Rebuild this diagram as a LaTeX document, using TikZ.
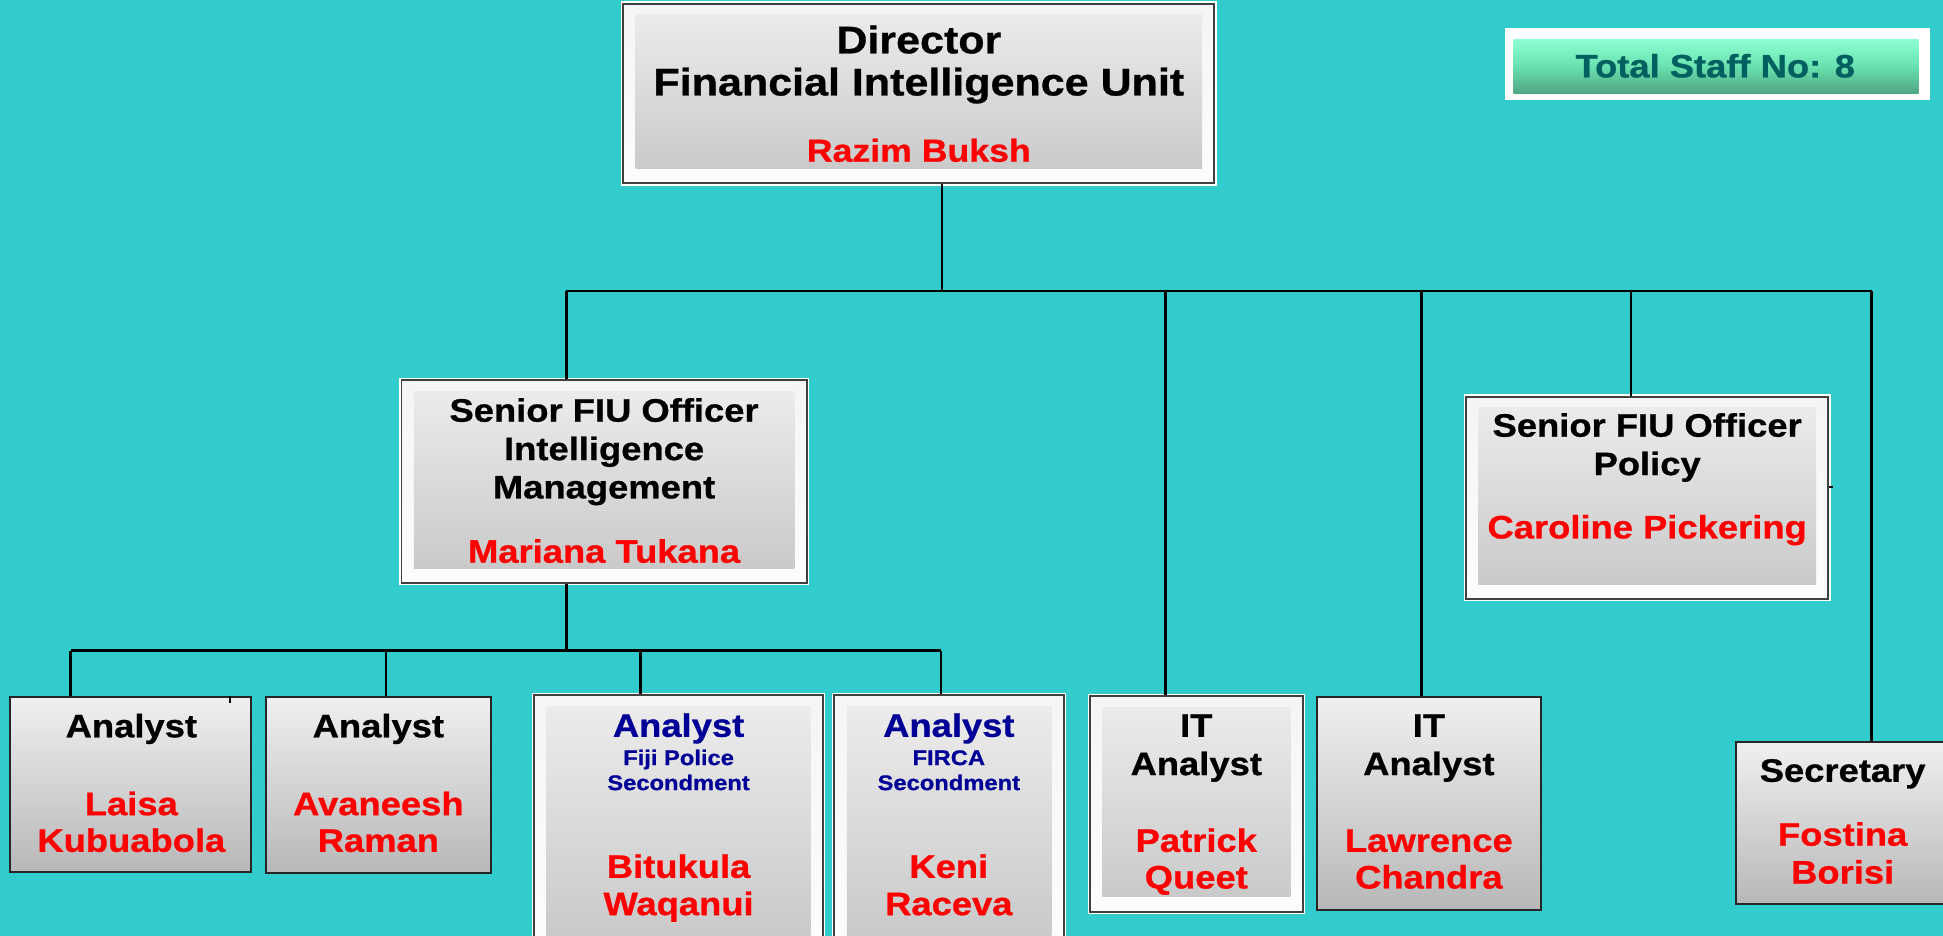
\documentclass[tikz,border=0pt]{standalone}
\usepackage{fontspec}
\setmainfont{Liberation Sans}[FakeStretch=1.12, BoldFeatures={FakeBold=0.8}]
\definecolor{bg}{RGB}{51,204,204}
\definecolor{nred}{RGB}{255,0,0}
\definecolor{nblue}{RGB}{0,0,150}
\definecolor{tealtxt}{RGB}{0,96,96}
\definecolor{mintA}{RGB}{140,255,210}
\definecolor{mintM}{RGB}{105,225,175}
\definecolor{mintB}{RGB}{80,165,130}
\begin{document}
\begin{tikzpicture}[x=1pt,y=-1pt,
  conn/.style={draw=black, line width=2pt},
  plainbox/.style={draw=black!85, line width=1.6pt, inner sep=0pt, top color=black!6, bottom color=black!28},
  bevelbox/.style={draw=black!75, line width=1.6pt, inner sep=0pt, top color=black!4, bottom color=black!1,
     preaction={draw=white, line width=3.8pt},
     path picture={\shade[top color=black!7, bottom color=black!22]
        ([shift={(10pt,-9pt)}]path picture bounding box.north west) rectangle
        ([shift={(-10pt,12pt)}]path picture bounding box.south east);}},
  txtline/.style={anchor=base, inner sep=0pt, font=\bfseries\fontsize{26.2}{30}\selectfont},
  bigline/.style={txtline, font=\bfseries\fontsize{31}{35}\selectfont},
  smallline/.style={txtline, font=\bfseries\fontsize{17.1}{20}\selectfont, text=nblue},
  redline/.style={txtline, text=nred},
]
\useasboundingbox[fill=bg] (0,0) rectangle (1568,755);

% boxes
\node[bevelbox, minimum width=477pt, minimum height=145pt] (dir) at (741.5,75.5) {};
\node[bevelbox, minimum width=327pt, minimum height=163.5pt] (sfi) at (487.5,388.75) {};
\node[bevelbox, minimum width=292.5pt, minimum height=163.5pt] (sfp) at (1329.25,401.75) {};
\node[plainbox, minimum width=194.3pt, minimum height=141.3pt] (an1) at (105.15,632.95) {};
\node[plainbox, minimum width=181.9pt, minimum height=142pt] (an2) at (305.35,633.3) {};
\node[bevelbox, minimum width=233pt, minimum height=209pt] (an3) at (547.5,665.5) {};
\node[bevelbox, minimum width=185pt, minimum height=209pt] (an4) at (765.9,665.5) {};
\node[bevelbox, minimum width=171.9pt, minimum height=174pt] (it1) at (965.65,648.8) {};
\node[plainbox, minimum width=181.2pt, minimum height=172.2pt] (it2) at (1153.3,648.4) {};
\node[plainbox, minimum width=177pt, minimum height=131pt] (sec) at (1489.5,664.1) {};

% total staff
\node[fill=white, minimum width=343pt, minimum height=57.8pt, inner sep=0pt] (tsw) at (1386.2,51.8) {};
\node[minimum width=326.9pt, minimum height=43.6pt, inner sep=0pt,
      top color=mintA, bottom color=mintB, middle color=mintM] (ts) at (1384.85,53.5) {};
\node[txtline, text=tealtxt] (tst) at (1384.2,62.5) {Total Staff No: 8};

% connectors
\coordinate (jd) at (760,235);
\coordinate (j1) at (457,235);
\coordinate (j2) at (940.5,235);
\coordinate (j3) at (1147,235);
\coordinate (j4) at (1316.4,235);
\coordinate (j5) at (1510.4,235);
\draw[conn] (jd |- dir.south) -- (jd);
\draw[conn] (j1) -- (j5);
\draw[conn] (j1) -- (j1 |- sfi.north);
\draw[conn] (j2) -- (j2 |- it1.north);
\draw[conn] (j3) -- (j3 |- it2.north);
\draw[conn] (j4) -- (j4 |- sfp.north);
\draw[conn] (j5) -- (j5 |- sec.north);

\coordinate (k0) at (457,525);
\coordinate (k1) at (57,525);
\coordinate (k2) at (311.3,525);
\coordinate (k3) at (517,525);
\coordinate (k4) at (759.3,525);
\draw[conn] (k0 |- sfi.south) -- (k0);
\draw[conn] (k1) -- (k4);
\draw[conn] (k1) -- (k1 |- an1.north);
\draw[conn] (k2) -- (k2 |- an2.north);
\draw[conn] (k3) -- (k3 |- an3.north);
\draw[conn] (k4) -- (k4 |- an4.north);

% small stubs
\coordinate (tk1) at (185.6,567);
\draw[line width=1.5pt] (tk1 |- an1.north) -- (tk1);
\coordinate (tk2) at (1479,392.8);
\draw[line width=1.5pt] (sfp.east |- tk2) -- (tk2);

% texts
\node[bigline] (d1) at (741.5,43) {Director};
\node[bigline] (d2) at (741.5,77) {Financial Intelligence Unit};
\node[redline, font=\bfseries\fontsize{25.7}{30}\selectfont] (d3) at (741.5,130.5) {Razim Buksh};

\node[txtline] (s1) at (487.5,340.3) {Senior FIU Officer};
\node[txtline] (s2) at (487.5,371.3) {Intelligence};
\node[txtline] (s3) at (487.5,402.2) {Management};
\node[redline] (s4) at (487.5,454.1) {Mariana Tukana};

\node[txtline] (p1) at (1329.25,352.4) {Senior FIU Officer};
\node[txtline] (p2) at (1329.25,383.4) {Policy};
\node[redline] (p3) at (1329.25,434.5) {Caroline Pickering};

\node[txtline] (a11) at (106,595) {Analyst};
\node[redline] (a12) at (106,657.8) {Laisa};
\node[redline] (a13) at (106,687.4) {Kubuabola};

\node[txtline] (a21) at (305.35,595) {Analyst};
\node[redline] (a22) at (305.35,657.8) {Avaneesh};
\node[redline] (a23) at (305.35,687.4) {Raman};

\node[txtline, text=nblue] (a31) at (547.6,594.6) {Analyst};
\node[smallline] (a32) at (547.6,617.4) {Fiji Police};
\node[smallline] (a33) at (547.6,637.6) {Secondment};
\node[redline] (a34) at (547.6,708.4) {Bitukula};
\node[redline] (a35) at (547.6,738.5) {Waqanui};

\node[txtline, text=nblue] (a41) at (765.7,594.6) {Analyst};
\node[smallline] (a42) at (765.7,617.4) {FIRCA};
\node[smallline] (a43) at (765.7,637.6) {Secondment};
\node[redline] (a44) at (765.7,708.4) {Keni};
\node[redline] (a45) at (765.7,738.5) {Raceva};

\node[txtline] (i11) at (965.4,594.6) {IT};
\node[txtline] (i12) at (965.4,625.5) {Analyst};
\node[redline] (i13) at (965.4,687.4) {Patrick};
\node[redline] (i14) at (965.4,717) {Queet};

\node[txtline] (i21) at (1153.1,594.6) {IT};
\node[txtline] (i22) at (1153.1,625.5) {Analyst};
\node[redline] (i23) at (1153.1,687.4) {Lawrence};
\node[redline] (i24) at (1153.1,717) {Chandra};

\node[txtline] (e1) at (1487,630.9) {Secretary};
\node[redline] (e2) at (1487,682.5) {Fostina};
\node[redline] (e3) at (1487,713) {Borisi};
\end{tikzpicture}
\end{document}
